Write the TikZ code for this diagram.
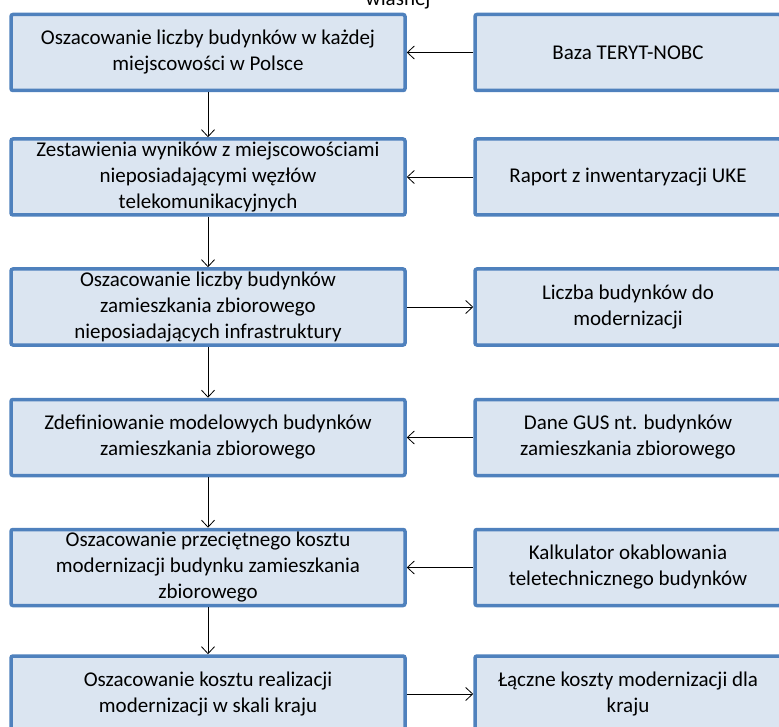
\documentclass[tikz,border=0pt]{standalone}
\usepackage{fontspec}
\setmainfont{Carlito}
\usepackage{tikz}
\usetikzlibrary{arrows.meta}
\definecolor{boxfill}{RGB}{219,229,241}
\definecolor{boxline}{RGB}{79,129,189}
\tikzset{krok/.style={rectangle,rounded corners=2pt,draw=boxline,line width=3.5pt,fill=boxfill,
  align=center,minimum width=394pt,minimum height=76pt,inner sep=2pt,font=\fontsize{21}{26}\selectfont}}
\tikzset{zrodlo/.style={krok,minimum width=306pt}}
\tikzset{pil/.style={-{Straight Barb[length=7pt,width=13pt]},line width=0.8pt}}

\begin{document}
\begin{tikzpicture}
[x=1pt,y=-1pt]
\useasboundingbox (0,0) rectangle (779,727);
\node (top) at (398,6)[anchor=base,font=\fontsize{21}{26}\selectfont]{własnej};

\node (a1) at (208,52.5)[krok]{Oszacowanie liczby budynków w każdej\\miejscowości w Polsce};
\node (a2) at (208,177)[krok]{Zestawienia wyników z miejscowościami\\nieposiadającymi węzłów\\telekomunikacyjnych};
\node (a3) at (208,307)[krok]{Oszacowanie liczby budynków\\zamieszkania zbiorowego\\nieposiadających infrastruktury};
\node (a4) at (208,437.5)[krok]{Zdefiniowanie modelowych budynków\\zamieszkania zbiorowego};
\node (a5) at (208,567.5)[krok]{Oszacowanie przeciętnego kosztu\\modernizacji budynku zamieszkania\\zbiorowego};
\node (a6) at (208,694)[krok]{Oszacowanie kosztu realizacji\\modernizacji w skali kraju};

\node (b1) at (628,52.5)[zrodlo]{Baza TERYT-NOBC};
\node (b2) at (628,177)[zrodlo]{Raport z inwentaryzacji UKE};
\node (b3) at (628,307)[zrodlo]{Liczba budynków do\\modernizacji};
\node (b4) at (628,437.5)[zrodlo]{Dane GUS nt. budynków\\zamieszkania zbiorowego};
\node (b5) at (628,567.5)[zrodlo]{Kalkulator okablowania\\teletechnicznego budynków};
\node (b6) at (628,694)[zrodlo]{Łączne koszty modernizacji dla\\kraju};

\draw[pil] (a1) -- (a2);
\draw[pil] (a2) -- (a3);
\draw[pil] (a3) -- (a4);
\draw[pil] (a4) -- (a5);
\draw[pil] (a5) -- (a6);

\draw[pil] (b1) -- (a1);
\draw[pil] (b2) -- (a2);
\draw[pil] (a3) -- (b3);
\draw[pil] (b4) -- (a4);
\draw[pil] (b5) -- (a5);
\draw[pil] (a6) -- (b6);
\end{tikzpicture}
\end{document}
